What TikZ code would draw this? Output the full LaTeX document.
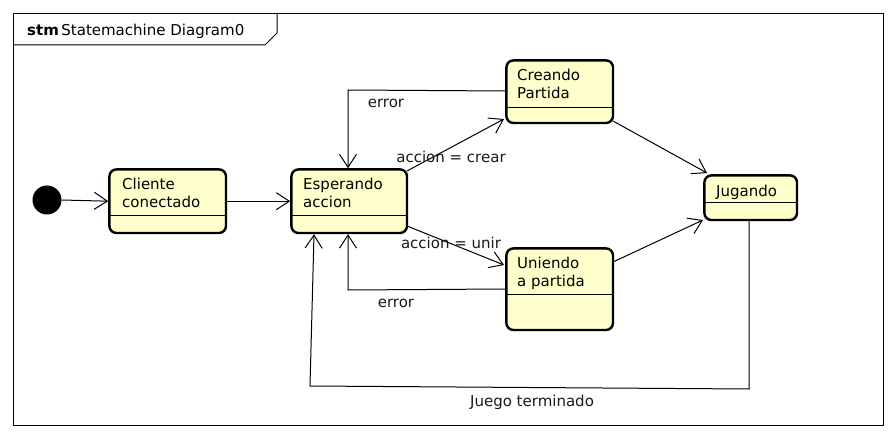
\documentclass[tikz,border=0pt]{standalone}
\usepackage{fontspec}
\setmainfont{DejaVu Sans}
\usetikzlibrary{arrows.meta}
\definecolor{statefill}{RGB}{255,255,204}
\tikzset{
  state/.style={draw=black, line width=2.4pt, rounded corners=7pt, fill=statefill, inner sep=0pt, anchor=north west},
  sep/.style={line width=1pt},
  txt/.style={font=\fontsize{15}{18.5}\selectfont, align=left, inner sep=0pt, anchor=north west},
  lbl/.style={font=\fontsize{15}{18.5}\selectfont, inner sep=0pt, text=black!90},
  conn/.style={line width=1pt, -{Straight Barb[length=13pt, width=17pt, line width=1pt]}},
  plain/.style={line width=1pt}
}
\begin{document}
\begin{tikzpicture}[x=1pt, y=-1pt]
\useasboundingbox (0,0) rectangle (896,438);
\fill[white] (0,0) rectangle (896,438);
% frame
\node[draw, line width=1pt, minimum width=870pt, minimum height=412pt, anchor=north west, inner sep=0pt] (frame) at (13,13) {};
\draw[line width=1pt] (13,45) -- (265,45) -- (277,33) -- (277,13);
\node[inner sep=0pt, anchor=base west, font=\fontsize{15}{18}\selectfont] (title) at (27,36) {\textbf{stm}\,Statemachine Diagram0};
% initial
\node[circle, fill=black, minimum size=29pt, inner sep=0pt] (init) at (47,200) {};
% states
\node[state, minimum width=116.6pt, minimum height=63.6pt] (cli) at (108.2,168.2) {};
\draw[sep] ([yshift=-47pt]cli.north west) -- ([yshift=-47pt]cli.north east);
\node[txt] (clit) at (122,177.6) {Cliente\\conectado};

\node[state, minimum width=115.6pt, minimum height=63.6pt] (esp) at (290.2,168.2) {};
\draw[sep] ([yshift=-47pt]esp.north west) -- ([yshift=-47pt]esp.north east);
\node[txt] (espt) at (303,177.6) {Esperando\\accion};

\node[state, minimum width=106.6pt, minimum height=62.6pt] (cre) at (505.2,59.2) {};
\draw[sep] ([yshift=-48pt]cre.north west) -- ([yshift=-48pt]cre.north east);
\node[txt] (cret) at (517,68.6) {Creando\\Partida};

\node[state, minimum width=106.6pt, minimum height=81.6pt] (uni) at (505.2,247.2) {};
\draw[sep] ([yshift=-47pt]uni.north west) -- ([yshift=-47pt]uni.north east);
\node[txt] (unit) at (517,256.6) {Uniendo\\a partida};

\node[state, minimum width=92.6pt, minimum height=44.6pt] (jug) at (703.2,174.2) {};
\draw[sep] ([yshift=-28pt]jug.north west) -- ([yshift=-28pt]jug.north east);
\node[txt] (jugt) at (716,184.6) {Jugando};

% connectors
\draw[conn] (init.east) -- (cli.west);
\draw[conn] (cli.east) -- (esp.west);
\draw[conn] (407,171) -- (504,119);
\draw[conn] (407,226) -- (504,265);
\draw[conn] (cre.west |- 0,91) -- (348,90) -- (esp.north -| 348,0);
\draw[conn] (uni.west |- 0,289) -- (348,290) -- (esp.south -| 348,0);
\draw[conn] (613,121) -- (707,173);
\draw[conn] (613,262) -- (703,220);
\draw[conn] (jug.south -| 749,0) -- (749,389) -- (310,386) -- (esp.south -| 314,0);

% labels
\node[lbl] (l1) at (386,103) {error};
\node[lbl] (l2) at (451,157) {accion = crear};
\node[lbl] (l3) at (451,243) {accion = unir};
\node[lbl] (l4) at (396,303) {error};
\node[lbl] (l5) at (532,402) {Juego terminado};
\end{tikzpicture}
\end{document}
